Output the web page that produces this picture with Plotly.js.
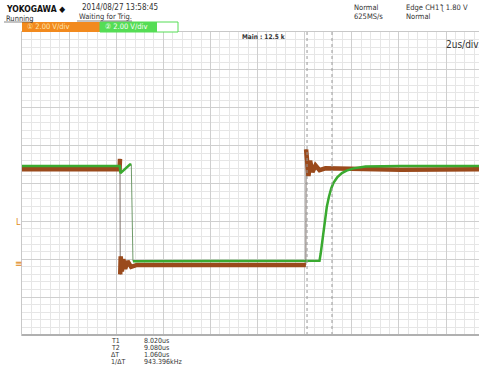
<!DOCTYPE html>
<html><head><meta charset="utf-8">
<script src="https://cdn.plot.ly/plotly-3.0.1.min.js"></script>
<style>html,body{margin:0;padding:0;background:#fff;}#c{width:479px;height:367px;}</style>
</head><body><div id="c"></div>
<script>
// Time in microseconds (t=0 at trigger), voltage in volts (2 V/div)
var ch1_t = [-4.08, -2.0, 0.0, 0.06, 0.08, 0.09, 0.11, 0.16, 0.22, 0.3, 0.4, 0.55, 0.8, 3.0, 6.0, 7.97, 7.98, 8.02, 8.08, 8.15, 8.25, 8.38, 8.55, 8.8, 10.0, 12.0, 15.32];
var ch1_v = [4.95, 4.95, 4.95, 4.95, 5.5, -0.6, 0.35, -0.45, 0.2, -0.3, 0.1, -0.2, -0.1, -0.1, -0.1, -0.1, 6.0, 5.6, 4.6, 5.4, 4.8, 5.15, 4.9, 5.0, 4.95, 4.92, 4.95];
var ch2_t = [-4.08, -2.0, 0.07, 0.1, 0.2, 0.35, 0.5, 0.56, 0.6, 0.63, 1.0, 4.0, 8.55, 8.6, 8.65, 8.71, 8.78, 8.86, 8.95, 9.05, 9.15, 9.3, 9.5, 9.7, 10.0, 10.5, 12.0, 15.32];
var ch2_v = [5.12, 5.12, 5.12, 4.75, 4.85, 5.05, 5.2, 5.2, 2.5, 0.1, 0.1, 0.1, 0.12, 0.5, 1.0, 1.58, 2.3, 2.97, 3.5, 3.95, 4.25, 4.52, 4.75, 4.88, 5.0, 5.1, 5.12, 5.12];
var cursors = [8.02, 9.08];
var cursorTexts = [["T1", "8.020us"], ["T2", "9.080us"], ["\u0394T", "1.060us"], ["1/\u0394T", "943.396kHz"]];

// Split a trace into level segments (break on fast edges) for the thick band
function segments(t, v) {
  var st = [], sv = [];
  for (var i = 0; i < t.length; i++) {
    if (i > 0 && Math.abs(v[i] - v[i-1]) > 1.5) { st.push(null); sv.push(null); }
    st.push(t[i]); sv.push(v[i]);
  }
  return {t: st, v: sv};
}
var s1 = segments(ch1_t, ch1_v);
var s2 = segments(ch2_t, ch2_v);

var L = 22, T = 32, W = 457, H = 303;
function px(x) { return (x - L) / W; }
function py(y) { return (T + H - y) / H; }

var traces = [
  {x: ch1_t, y: ch1_v, mode: 'lines', line: {color: '#7d716b', width: 1}, hoverinfo: 'skip'},
  {x: s1.t, y: s1.v, mode: 'lines', line: {color: '#9a4a1c', width: 4.5}, connectgaps: false, hoverinfo: 'skip'},
  {x: ch2_t, y: ch2_v, mode: 'lines', line: {color: '#6f9a6a', width: 1}, hoverinfo: 'skip'},
  {x: s2.t, y: s2.v, mode: 'lines', line: {color: '#3aaa30', width: 2.5}, connectgaps: false, hoverinfo: 'skip'}
];

var fontN = "Liberation Sans Narrow, DejaVu Sans Condensed, Arial Narrow, sans-serif";
var ann = [];
function txt(x, y, s, size, color, extra) {
  var a = {xref: 'paper', yref: 'paper', x: px(x), y: py(y), text: s, showarrow: false,
    xanchor: 'left', yanchor: 'middle', font: {family: fontN, size: size, color: color || '#222'}};
  if (extra) for (var k in extra) a[k] = extra[k];
  ann.push(a);
}
txt(4, 9, '<b>YOKOGAWA \u25C6</b>', 8.5, '#111');
txt(80, 8, '2014/08/27 13:58:45', 8, '#333');
txt(4, 18, 'Running', 7.5, '#333');
txt(77, 17, 'Waiting for Trig.', 7.5, '#333');
txt(352, 7, 'Normal', 7.5, '#333');
txt(352, 16, '625MS/s', 7.5, '#333');
txt(404, 7, 'Edge CH1 \u01AA 1.80 V', 7.5, '#333');
txt(404, 16, 'Normal', 7.5, '#333');
txt(25, 27, '\u2460 2.00 V/div', 7.5, '#ffe8b0');
txt(103, 27, '\u2461 2.00 V/div', 7.5, '#ffffff');
txt(240, 37, '<b>Main : 12.5 k</b>', 6.5, '#333');
txt(444, 45, '2us/div', 10, '#333');
txt(14, 222, 'L', 9, '#e08a20');
txt(13, 263, '\u2261', 10, '#e08a20');
for (var i = 0; i < cursorTexts.length; i++) {
  txt(109, 341 + i * 7, cursorTexts[i][0], 7, '#333');
  txt(142, 341 + i * 7, cursorTexts[i][1], 7, '#333');
}

var shapes = [
  {type: 'rect', xref: 'paper', yref: 'paper', x0: px(22), x1: px(100), y0: py(32), y1: py(22), fillcolor: '#f28a1e', line: {width: 0}},
  {type: 'rect', xref: 'paper', yref: 'paper', x0: px(100), x1: px(178), y0: py(32), y1: py(22), fillcolor: '#ffffff', line: {color: '#55dd55', width: 1}},
  {type: 'rect', xref: 'paper', yref: 'paper', x0: px(100), x1: px(157), y0: py(32), y1: py(22), fillcolor: '#55dd55', line: {width: 0}},
  {type: 'line', xref: 'paper', yref: 'paper', x0: px(4), x1: px(33), y0: py(22), y1: py(22), line: {color: '#555', width: 0.7}},
  {type: 'line', xref: 'paper', yref: 'paper', x0: px(77), x1: px(132), y0: py(21), y1: py(21), line: {color: '#555', width: 0.7}}
];
cursors.forEach(function (c) {
  shapes.push({type: 'line', xref: 'x', yref: 'paper', x0: c, x1: c, y0: 0, y1: 1, line: {color: '#999', width: 1, dash: 'dot'}});
});
shapes.push({type: 'line', xref: 'paper', yref: 'paper', x0: 0, x1: 1, y0: 0, y1: 0, line: {color: '#b0b0b0', width: 2}});

var layout = {
  width: 479, height: 367,
  margin: {l: L, r: 479 - L - W, t: T, b: 367 - T - H, pad: 0},
  paper_bgcolor: '#fff', plot_bgcolor: '#fff',
  showlegend: false,
  xaxis: {range: [-4.08, 15.32], tick0: -4.08, dtick: 2, showticklabels: false, ticks: '',
    showgrid: true, gridcolor: '#cfcfcf', gridwidth: 1, zeroline: false,
    minor: {dtick: 0.4, tick0: -4.08, showgrid: true, gridcolor: '#e6e6e6', gridwidth: 1},
    showline: true, linecolor: '#c8c8c8', linewidth: 1, mirror: true, fixedrange: true},
  yaxis: {range: [-3.8, 12.2], tick0: -3.8, dtick: 2, showticklabels: false, ticks: '',
    showgrid: true, gridcolor: '#cfcfcf', gridwidth: 1, zeroline: false,
    minor: {dtick: 0.4, tick0: -3.8, showgrid: true, gridcolor: '#e6e6e6', gridwidth: 1},
    showline: true, linecolor: '#c8c8c8', linewidth: 1, mirror: true, fixedrange: true},
  annotations: ann, shapes: shapes
};
Plotly.newPlot('c', traces, layout, {staticPlot: true, displayModeBar: false});
</script></body></html>
